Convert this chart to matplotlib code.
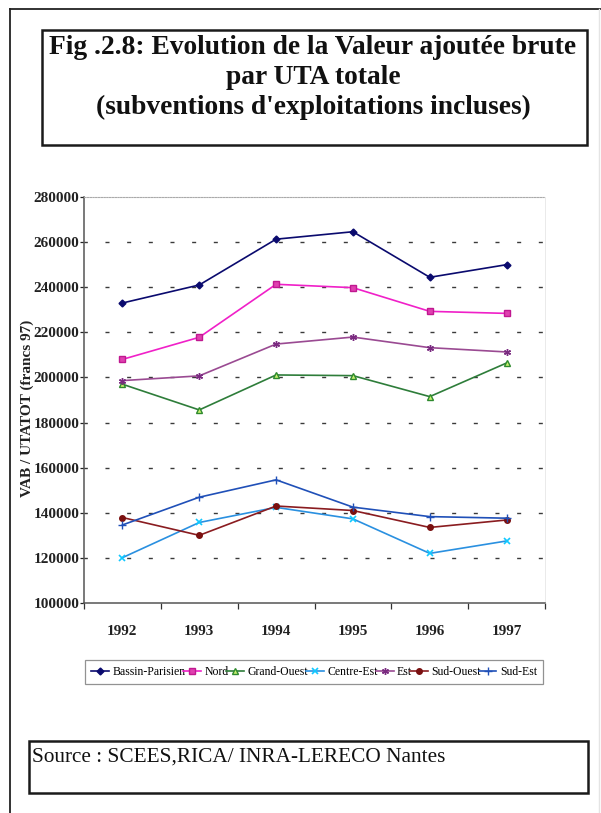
import numpy as np
import matplotlib
matplotlib.use("Agg")
import matplotlib.pyplot as plt
from matplotlib.lines import Line2D
from matplotlib.patches import Rectangle

# --- data -----------------------------------------------------------------
years = ["1992", "1993", "1994", "1995", "1996", "1997"]
regions = ["Bassin-Parisien", "Nord", "Grand-Ouest", "Centre-Est", "Est",
           "Sud-Ouest", "Sud-Est"]
bassin_parisien = [233000, 241000, 261300, 264600, 244400, 250000]
nord = [208000, 217800, 241300, 239800, 229300, 228400]
grand_ouest = [197000, 185600, 201100, 200800, 191500, 206400]
centre_est = [120100, 135700, 142400, 137300, 122000, 127500]
est = [198600, 200700, 214800, 217900, 213200, 211300]
sud_ouest = [137900, 130000, 143000, 141000, 133500, 136800]
sud_est = [134600, 146900, 154600, 142500, 138300, 137600]
y_ticks = [100000, 120000, 140000, 160000, 180000, 200000, 220000, 240000,
           260000, 280000]

series = [bassin_parisien, nord, grand_ouest, centre_est, est, sud_ouest, sud_est]

# --- styles -----------------------------------------------------------------
styles = [
    dict(color="#0a0a6e", marker="D", ms=3.5, mfc="#0a0a6e", mec="#0a0a6e"),
    dict(color="#f020c8", marker="s", ms=3.8, mfc="#e040b0", mec="#c01890"),
    dict(color="#2e7d3a", marker="^", ms=4.5, mfc="#c8f070", mec="#2e8a2e"),
    dict(color="#2a90e0", marker="x", ms=5, mfc="none", mec="#10c8ff", mew=1.2),
    dict(color="#9a4a92", marker=(6, 2, 0), ms=5, mec="#7a2a80", mew=1.0),
    dict(color="#8a1c20", marker="o", ms=4, mfc="#7a1010", mec="#7a1010"),
    dict(color="#2050b8", marker="+", ms=6, mec="#2050b8", mew=1.0),
]

plt.rcParams["lines.scale_dashes"] = False
SERIF = ["Liberation Serif", "DejaVu Serif"]

W, H = 601, 813
fig = plt.figure(figsize=(W / 100, H / 100), dpi=100)
fig.patch.set_facecolor("white")


def fx(x):
    return x / W


def fy(y):
    return 1 - y / H


def box(x0, y0, x1, y1, lw=1.6, color="#1a1a1a"):
    fig.add_artist(Rectangle((fx(x0), fy(y1)), fx(x1) - fx(x0), fy(y0) - fy(y1),
                             transform=fig.transFigure, fill=False,
                             edgecolor=color, linewidth=lw))


# page frame (left and top edges)
fig.add_artist(Line2D([fx(10), fx(10)], [fy(9), fy(813)], transform=fig.transFigure,
                      color="#222222", lw=1.3))
fig.add_artist(Line2D([fx(10), fx(601)], [fy(9), fy(9)], transform=fig.transFigure,
                      color="#222222", lw=1.3))
fig.add_artist(Line2D([fx(599), fx(599)], [fy(9), fy(813)], transform=fig.transFigure,
                      color="#e4e4e4", lw=1.0))

# title box
box(42, 30, 587, 145, lw=1.8)
title_lines = ["Fig .2.8: Evolution de la Valeur ajoutée brute",
               "par UTA totale",
               "(subventions d'exploitations incluses)"]
for i, line in enumerate(title_lines):
    fig.text(fx(313), fy(47 + 30 * i), line, ha="center", va="center",
             family=SERIF, weight="bold", fontsize=19.8, color="#111111")

# source box
box(29, 741, 588, 793, lw=1.8)
fig.text(fx(32), fy(757), "Source : SCEES,RICA/ INRA-LERECO Nantes", ha="left",
         va="center", family=SERIF, fontsize=15.3, color="#111111")

# --- chart ------------------------------------------------------------------
ax = fig.add_axes([fx(84), fy(603), fx(545) - fx(84), fy(197) - fy(603)])
x = np.arange(len(years))
handles = []
for name, vals, st in zip(regions, series, styles):
    h, = ax.plot(x, vals, lw=1.2, label=name, **st)
    handles.append(h)

ax.set_xlim(-0.5, len(years) - 0.5)
ax.set_ylim(y_ticks[0], y_ticks[-1])
ax.set_yticks(y_ticks)
ax.set_yticklabels([str(v) for v in y_ticks])
ax.set_xticks(x)
ax.set_xticklabels(years)
ax.set_xticks(np.arange(-0.5, len(years)), minor=True)

for yv in y_ticks[1:-1]:
    ax.axhline(yv, color="#3a3a3a", lw=1.0, zorder=0,
               linestyle=(0.5, (2.9, 12.7)))

ax.tick_params(axis="y", direction="out", length=3.0, width=0.9, pad=0.5,
               colors="#222222", labelsize=11)
ax.tick_params(axis="x", which="major", length=0, pad=16, labelsize=11,
               colors="#222222")
ax.tick_params(axis="x", which="minor", direction="out", length=4.5, width=0.9,
               colors="#333333")
for lab in ax.get_yticklabels() + ax.get_xticklabels():
    lab.set_family(SERIF)
    lab.set_weight("bold")

for side in ("left", "bottom"):
    ax.spines[side].set_color("#555555")
    ax.spines[side].set_linewidth(1.1)
ax.spines["top"].set_color("#aaaaaa")
ax.spines["top"].set_linestyle((0, (1, 1)))
ax.spines["top"].set_linewidth(0.8)
ax.spines["right"].set_color("#e6e6e6")
ax.spines["right"].set_linewidth(0.6)

fig.text(fx(27), fy(408), "VAB / UTATOT (francs 97)", rotation=90, ha="center",
         va="center", family=SERIF, weight="bold", fontsize=11, color="#222222")

# legend
leg = fig.legend(handles=handles, labels=regions, ncol=7, mode="expand",
                 loc="lower left",
                 bbox_to_anchor=(fx(85), fy(684), fx(543) - fx(85), fy(651) - fy(684)),
                 bbox_transform=fig.transFigure, frameon=True, fancybox=False,
                 borderaxespad=0, handlelength=1.5, handletextpad=0.3,
                 columnspacing=0.4, borderpad=0.5,
                 prop=dict(family=SERIF, size=8.5))
leg.get_frame().set_edgecolor("#777777")
leg.get_frame().set_linewidth(0.9)

fig.savefig("out.png", dpi=100, facecolor="white")
